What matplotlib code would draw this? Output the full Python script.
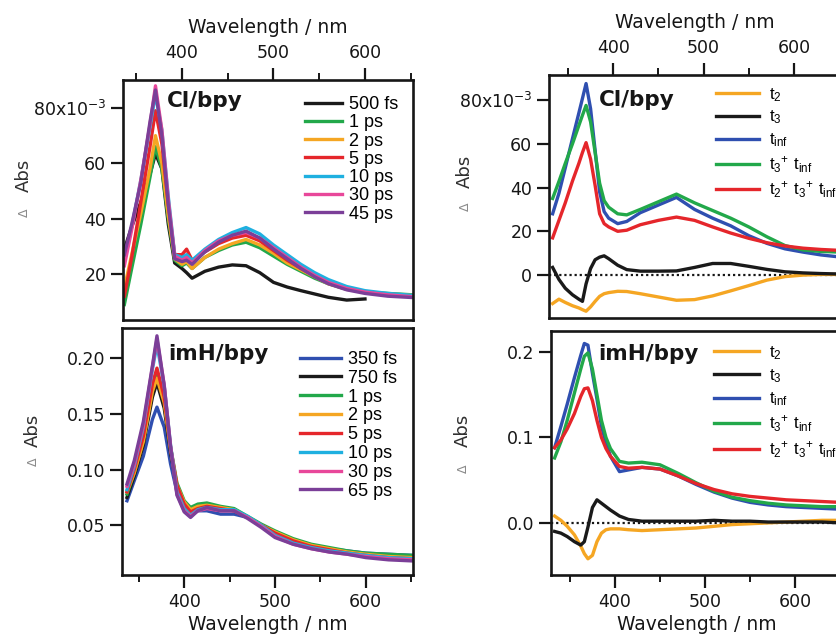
import numpy as np
import matplotlib
matplotlib.use("Agg")
import matplotlib.pyplot as plt

plt.rcParams['font.family'] = ['DejaVu Sans']
plt.rcParams['mathtext.fontset'] = 'dejavusans'

# ---------------- data ----------------
# Top-left: Cl/bpy transient spectra (Delta Abs, x1e-3)
wl_tl = [337, 345, 355, 365, 371, 378, 385, 392, 400, 405, 411, 425, 440, 455,
         470, 485, 500, 515, 530, 545, 560, 580, 600, 625, 652]
tl_labels = ['500 fs', '1 ps', '2 ps', '5 ps', '10 ps', '30 ps', '45 ps']
tl_500fs = [29, 37, 46, 56, 63.5, 58, 38, 24, 22, 20.5, 18.5, 21, 22.5, 23.3,
            23, 20.5, 17, 15.3, 14, 12.8, 11.6, 10.6, 11, np.nan, np.nan]
tl_1ps = [9, 22, 38, 55, 66, 58, 40, 25, 23, 24, 22, 26, 28.5, 30.5,
          31.5, 29.5, 26.5, 23.5, 21, 18.5, 16.5, 14.5, 13.5, 13, 12.5]
tl_2ps = [15, 27, 42, 58, 70, 60, 41, 25.5, 23.5, 24.5, 22, 26, 29, 31,
          32.5, 30.5, 27.5, 24, 21.5, 19, 16.5, 14.5, 13.5, 12.8, 12.3]
tl_5ps = [12, 26, 46, 66, 79, 67, 45, 27, 27, 29, 25, 28, 31, 33,
          34, 32, 28.5, 25, 22, 19.5, 17, 14.8, 13.5, 12.8, 12]
tl_10ps = [25, 37, 54, 73, 85, 72, 48, 27, 26, 27, 25, 29, 32.5, 35,
           36.8, 34.5, 30.5, 27, 23.5, 20.5, 18, 15.5, 14, 13, 12.3]
tl_30ps = [23, 36, 54, 74, 88, 72, 47, 26.5, 25, 26, 24, 28.5, 32, 34,
           35, 33, 29.5, 26, 22.5, 19.5, 17, 14.8, 13.5, 12.5, 11.8]
tl_45ps = [27, 38, 53, 75, 86.5, 70, 45, 25.5, 24.5, 25, 23.5, 28, 31.5, 34,
           35.5, 33, 29, 25.5, 22, 19, 16.5, 14.3, 13, 12, 11.5]

# Bottom-left: imH/bpy transient spectra (Delta Abs)
wl_bl = [337, 345, 355, 365, 370, 378, 385, 392, 400, 407, 415, 425, 440, 455,
         470, 485, 500, 520, 540, 560, 580, 600, 625, 652]
bl_labels = ['350 fs', '750 fs', '1 ps', '2 ps', '5 ps', '10 ps', '30 ps', '65 ps']
bl_350fs = [0.072, 0.09, 0.112, 0.145, 0.156, 0.138, 0.105, 0.08, 0.067, 0.062, 0.063, 0.063,
            0.060, 0.060, 0.057, 0.050, 0.043, 0.036, 0.032, 0.029, 0.027, 0.025, 0.024, 0.023]
bl_750fs = [0.075, 0.094, 0.122, 0.165, 0.178, 0.155, 0.115, 0.085, 0.070, 0.064, 0.066, 0.068,
            0.065, 0.063, 0.057, 0.050, 0.044, 0.037, 0.032, 0.029, 0.026, 0.024, 0.023, 0.022]
bl_1ps = [0.078, 0.097, 0.127, 0.172, 0.186, 0.162, 0.12, 0.088, 0.072, 0.066, 0.069, 0.070,
          0.067, 0.065, 0.058, 0.051, 0.045, 0.038, 0.033, 0.030, 0.027, 0.025, 0.024, 0.023]
bl_2ps = [0.080, 0.097, 0.125, 0.170, 0.182, 0.160, 0.118, 0.086, 0.071, 0.064, 0.067, 0.068,
          0.066, 0.064, 0.057, 0.050, 0.044, 0.037, 0.032, 0.029, 0.026, 0.024, 0.022, 0.021]
bl_5ps = [0.080, 0.100, 0.130, 0.177, 0.191, 0.165, 0.12, 0.086, 0.069, 0.062, 0.065, 0.067,
          0.065, 0.063, 0.057, 0.050, 0.043, 0.036, 0.031, 0.028, 0.025, 0.023, 0.021, 0.020]
bl_10ps = [0.082, 0.103, 0.138, 0.19, 0.212, 0.175, 0.122, 0.08, 0.065, 0.059, 0.064, 0.066,
           0.064, 0.064, 0.058, 0.050, 0.041, 0.034, 0.030, 0.027, 0.025, 0.023, 0.021, 0.020]
bl_30ps = [0.085, 0.105, 0.140, 0.192, 0.217, 0.176, 0.121, 0.078, 0.063, 0.058, 0.063, 0.065,
           0.063, 0.063, 0.057, 0.049, 0.040, 0.033, 0.029, 0.026, 0.024, 0.022, 0.020, 0.019]
bl_65ps = [0.087, 0.108, 0.143, 0.193, 0.220, 0.175, 0.12, 0.077, 0.062, 0.057, 0.063, 0.066,
           0.063, 0.063, 0.056, 0.048, 0.039, 0.033, 0.029, 0.026, 0.024, 0.021, 0.019, 0.018]

# Right panels: global-fit components
wl_r = [333, 340, 347, 355, 362, 366, 370, 375, 380, 385, 390, 395, 405, 415, 430,
        450, 470, 490, 510, 530, 550, 570, 590, 610, 630, 650]
# Top-right: Cl/bpy (x1e-3)
tr_t2 = [-13, -11, -12.5, -14, -15, -15.8, -16.5, -14.5, -12, -9.7, -8.5, -8, -7.4, -7.5, -8.5,
         -10, -11.5, -11.2, -9.5, -7.2, -4.8, -2.3, -0.7, 0, 0.3, 0.3]
tr_t3 = [3.5, -2, -6, -9, -11, -12, -4, 3, 7, 8.2, 8.8, 7.5, 4.5, 2.5, 1.8,
         1.8, 1.9, 3.5, 5.3, 5.3, 4, 2.6, 1.5, 1, 0.7, 0.5]
tr_tinf = [28, 37.4, 49, 62.4, 74, 80.7, 87.5, 76, 57, 38, 29, 26, 23.5, 24.5, 28.5,
           32, 35.5, 30, 26, 22.5, 18, 14.5, 12, 10.5, 9.2, 8.3]
tr_t3tinf = [35, 42.8, 51, 60, 68.3, 73, 77.5, 70, 56, 42, 34, 31, 28, 27.5, 30,
             33.5, 37, 33, 29.5, 26, 22, 17.5, 13.5, 11.5, 10.8, 10.5]
tr_t2t3tinf = [17, 25, 33, 43, 51, 56, 60.5, 53, 41, 28, 23.5, 22, 20, 20.5, 23,
               25, 26.5, 25, 22, 19.2, 16.8, 14.8, 13.3, 12.3, 11.7, 11.3]
# Bottom-right: imH/bpy
br_t2 = [0.008, 0.003, -0.004, -0.014, -0.027, -0.036, -0.042, -0.038, -0.022, -0.012, -0.008,
         -0.007, -0.007, -0.008, -0.009, -0.008, -0.007, -0.006, -0.004, -0.002, -0.001, 0.0,
         0.001, 0.002, 0.003, 0.003]
br_t3 = [-0.010, -0.012, -0.016, -0.022, -0.026, -0.022, -0.005, 0.018, 0.027, 0.023, 0.019,
         0.015, 0.008, 0.004, 0.002, 0.002, 0.002, 0.002, 0.003, 0.002, 0.002, 0.001, 0.001,
         0.001, 0.001, 0.0]
br_tinf = [0.088, 0.113, 0.139, 0.170, 0.196, 0.210, 0.208, 0.175, 0.145, 0.113, 0.094, 0.078,
           0.060, 0.062, 0.065, 0.063, 0.055, 0.045, 0.036, 0.029, 0.024, 0.021, 0.019, 0.018,
           0.017, 0.016]
br_t3tinf = [0.076, 0.095, 0.120, 0.152, 0.180, 0.195, 0.199, 0.180, 0.150, 0.120, 0.100, 0.087,
             0.072, 0.070, 0.071, 0.068, 0.058, 0.047, 0.037, 0.030, 0.026, 0.023, 0.021, 0.020,
             0.019, 0.019]
br_t2t3tinf = [0.088, 0.097, 0.110, 0.128, 0.148, 0.157, 0.158, 0.143, 0.120, 0.100, 0.087, 0.078,
               0.066, 0.064, 0.065, 0.063, 0.055, 0.046, 0.039, 0.034, 0.031, 0.029, 0.027, 0.026,
               0.025, 0.024]
r_labels = [r'$\mathregular{t_2}$', r'$\mathregular{t_3}$', r'$\mathregular{t_{inf}}$',
            r'$\mathregular{t_{3}{}^{+}\ t_{inf}}$', r'$\mathregular{t_{2}{}^{+}\ t_{3}{}^{+}\ t_{inf}}$']

# ---------------- style ----------------
c_black = '#1a1a1a'
c_green = '#22a84a'
c_orange = '#f5a623'
c_red = '#e5262b'
c_cyan = '#1fb0e0'
c_mag = '#e8479a'
c_purple = '#7b3f98'
c_blue = '#2f4fb0'

tl_series = [tl_500fs, tl_1ps, tl_2ps, tl_5ps, tl_10ps, tl_30ps, tl_45ps]
tl_colors = [c_black, c_green, c_orange, c_red, c_cyan, c_mag, c_purple]
bl_series = [bl_350fs, bl_750fs, bl_1ps, bl_2ps, bl_5ps, bl_10ps, bl_30ps, bl_65ps]
bl_colors = [c_blue, c_black, c_green, c_orange, c_red, c_cyan, c_mag, c_purple]
r_colors = [c_orange, c_black, c_blue, c_green, c_red]

W, H = 836, 636
fig = plt.figure(figsize=(W / 100, H / 100), dpi=100)
fig.patch.set_facecolor('white')


def ax_at(l, t, r, b):
    return fig.add_axes([l / W, 1 - b / H, (r - l) / W, (b - t) / H])


TICKFS = 12.5
LEGFONT = 'Liberation Sans'
INK = '#161616'


def style(ax, top):
    for s in ax.spines.values():
        s.set_linewidth(1.9)
        s.set_color(INK)
    ax.set_xticks([400, 500, 600])
    ax.set_xticks([350, 450, 550, 650], minor=True)
    if top:
        ax.xaxis.tick_top()
        ax.xaxis.set_label_position('top')
    ax.tick_params(axis='x', which='major', direction='out', length=9, width=1.6,
                   labelsize=TICKFS, pad=4, top=top, bottom=not top,
                   labeltop=top, labelbottom=not top, colors=INK)
    ax.tick_params(axis='x', which='minor', direction='out', length=5, width=1.4,
                   top=top, bottom=not top, colors=INK)
    ax.tick_params(axis='y', which='both', direction='out', length=9, width=1.6,
                   labelsize=TICKFS, pad=3, left=True, right=False, colors=INK)
    ax.set_xlabel('Wavelength / nm', fontsize=13.5, labelpad=8 if top else 3, color=INK)


def ylab(x, y_abs, y_delta):
    fig.text(x / W, 1 - y_abs / H, 'Abs', rotation=90, ha='center', va='center',
             fontsize=13, color='#303030')
    fig.text(x / W, 1 - y_delta / H, '\u0394', rotation=90, ha='center', va='center',
             fontsize=9, color='#8a8a8a')


# ---- top-left
ax = ax_at(123, 80, 413, 320)
for ys, col, lab in zip(tl_series, tl_colors, tl_labels):
    ax.plot(wl_tl, ys, color=col, lw=2.4, label=lab, solid_joinstyle='round')
ax.set_xlim(335.5, 652.5)
ax.set_ylim(3.4, 90.1)
style(ax, True)
ax.set_yticks([20, 40, 60, 80])
ax.set_yticklabels(['20', '40', '60', r'80x10$^{\mathregular{-3}}$'])
ax.legend(loc='upper left', bbox_to_anchor=(305 / W, 1 - 96 / H), bbox_transform=fig.transFigure,
          frameon=False, borderpad=0, borderaxespad=0, handlelength=2.05, handletextpad=0.4,
          labelspacing=0.07, prop={'family': LEGFONT, 'size': 13})
fig.text(167 / W, 1 - 107 / H, 'Cl/bpy', fontsize=15.5, fontweight='bold', va='baseline', color=INK)
ylab(24, 175, 213)

# ---- bottom-left
ax = ax_at(122, 328, 413, 575)
for ys, col, lab in zip(bl_series, bl_colors, bl_labels):
    ax.plot(wl_bl, ys, color=col, lw=2.4, label=lab, solid_joinstyle='round')
ax.set_xlim(331.5, 652)
ax.set_ylim(0.0054, 0.227)
style(ax, False)
ax.set_yticks([0.05, 0.10, 0.15, 0.20])
ax.set_yticklabels(['0.05', '0.10', '0.15', '0.20'])
ax.legend(loc='upper left', bbox_to_anchor=(300 / W, 1 - 351 / H), bbox_transform=fig.transFigure,
          frameon=False, borderpad=0, borderaxespad=0, handlelength=2.25, handletextpad=0.4,
          labelspacing=0.1, prop={'family': LEGFONT, 'size': 13})
fig.text(168 / W, 1 - 360 / H, 'imH/bpy', fontsize=15.5, fontweight='bold', va='baseline', color=INK)
ylab(33, 430, 462)

# ---- top-right
ax = ax_at(549, 75, 841, 318)
ax.axhline(0, color=INK, lw=1.6, ls=(0, (1, 1.3)), zorder=1)
for ys, col, lab in zip([tr_t2, tr_t3, tr_tinf, tr_t3tinf, tr_t2t3tinf], r_colors, r_labels):
    ax.plot(wl_r, ys, color=col, lw=2.4, label=lab, solid_joinstyle='round')
ax.set_xlim(329, 652)
ax.set_ylim(-19.6, 91.4)
style(ax, True)
ax.set_yticks([0, 20, 40, 60, 80])
ax.set_yticklabels(['0', '20', '40', '60', r'80x10$^{\mathregular{-3}}$'])
ax.legend(loc='upper left', bbox_to_anchor=(716 / W, 1 - 86 / H), bbox_transform=fig.transFigure,
          frameon=False, borderpad=0, borderaxespad=0, handlelength=2.6, handletextpad=0.6,
          labelspacing=0.3, prop={'family': LEGFONT, 'size': 12})
fig.text(599 / W, 1 - 106 / H, 'Cl/bpy', fontsize=15.5, fontweight='bold', va='baseline', color=INK)
ylab(465, 171, 207)

# ---- bottom-right
ax = ax_at(551, 331, 842, 575)
ax.axhline(0, color=INK, lw=1.6, ls=(0, (1, 1.3)), zorder=1)
for ys, col, lab in zip([br_t2, br_t3, br_tinf, br_t3tinf, br_t2t3tinf], r_colors, r_labels):
    ax.plot(wl_r, ys, color=col, lw=2.4, label=lab, solid_joinstyle='round')
ax.set_xlim(329, 652)
ax.set_ylim(-0.061, 0.2246)
style(ax, False)
ax.set_yticks([0.0, 0.1, 0.2])
ax.set_yticklabels(['0.0', '0.1', '0.2'])
ax.legend(loc='upper left', bbox_to_anchor=(714 / W, 1 - 344 / H), bbox_transform=fig.transFigure,
          frameon=False, borderpad=0, borderaxespad=0, handlelength=2.7, handletextpad=0.6,
          labelspacing=0.33, prop={'family': LEGFONT, 'size': 12})
fig.text(598 / W, 1 - 360 / H, 'imH/bpy', fontsize=15.5, fontweight='bold', va='baseline', color=INK)
ylab(463, 430, 469)

fig.savefig('out.png', dpi=100, facecolor='white')
